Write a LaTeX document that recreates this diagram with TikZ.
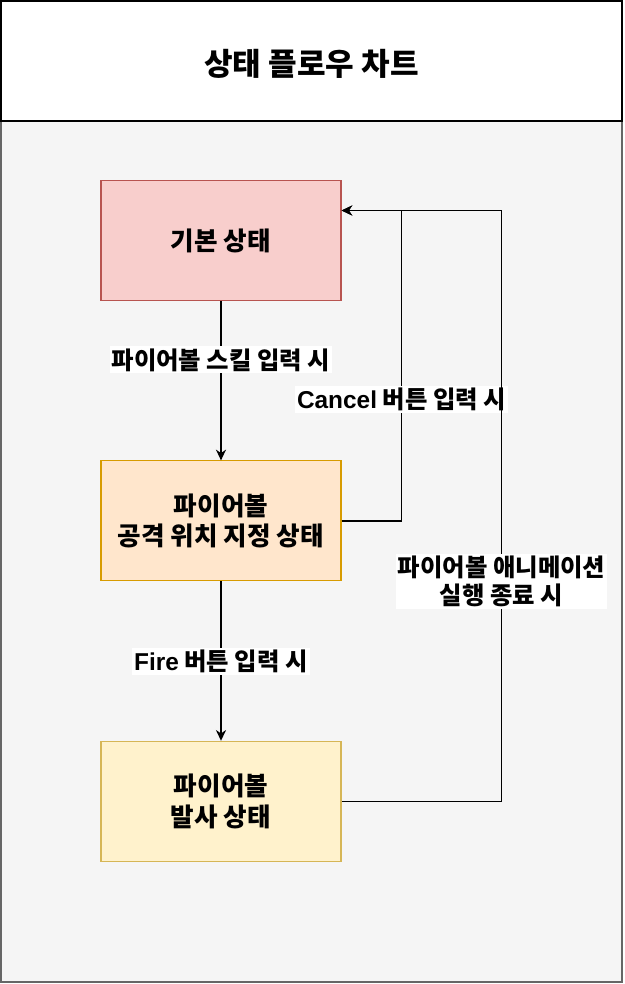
\documentclass[tikz,border=0pt]{standalone}
\usepackage{fontspec}
\setmainfont{Noto Sans CJK KR}
\newfontfamily\latinfont{Liberation Sans}[BoldFont=Liberation Sans Bold]
\usetikzlibrary{positioning, arrows.meta, calc}
\definecolor{redfill}{HTML}{F8CECC}
\definecolor{redline}{HTML}{B85450}
\definecolor{orangefill}{HTML}{FFE6CC}
\definecolor{orangeline}{HTML}{D79B00}
\definecolor{yellowfill}{HTML}{FFF2CC}
\definecolor{yellowline}{HTML}{D6B656}
\definecolor{panel}{HTML}{F5F5F5}
\definecolor{panelline}{HTML}{666666}

\begin{document}
\begin{tikzpicture}[x=0.75pt, y=-0.75pt,
        every node/.style={font=\bfseries\fontsize{19.2}{23}\selectfont},
        state/.style={rectangle, draw, line width=0.8pt,
          minimum width=180pt, minimum height=90pt, align=center},
        lbl/.style={fill=white, inner sep=1.5pt, align=center,
          font=\bfseries\fontsize{18.3}{20.5}\selectfont},
        arr/.style={-{Stealth[length=8pt, width=7.5pt, inset=2.5pt]}, line width=1.1pt}]

      \useasboundingbox (0,0) rectangle (624,984);
      \draw[panelline, fill=panel, line width=1.2pt] (1,121) rectangle (622,982);
      \draw[black, fill=white, line width=1.5pt] (1,1) rectangle (622,121);
      \node[font=\bfseries\fontsize{23.3}{28}\selectfont] (title) at (311.5,64) {상태 플로우 차트};

      \node[state, fill=redfill, draw=redline] (idle) at (221,240.5) {기본 상태};
      \node[state, fill=orangefill, draw=orangeline, below=119.5pt of idle]
        (aim) {파이어볼\\공격 위치 지정 상태};
      \node[state, fill=yellowfill, draw=yellowline, below=119.5pt of aim]
        (cast) {파이어볼\\발사 상태};
      \coordinate (back) at ($(idle.east)+(0,-30)$);

      \draw[arr] (idle) -- node[lbl, pos=0.37] {파이어볼 스킬 입력 시} (aim);
      \draw[arr] (aim) -- node[lbl] {{\latinfont Fire} 버튼 입력 시} (cast);
      \draw[arr] (aim.east) -- ++(60,0) |-
        node[lbl, pos=0.195] {{\latinfont Cancel} 버튼 입력 시} (back);
      \draw[arr] (cast.east) -- ++(160,0) |-
        node[lbl, pos=0.186] {파이어볼 애니메이션\\실행 종료 시} (back);
    \end{tikzpicture}
\end{document}
